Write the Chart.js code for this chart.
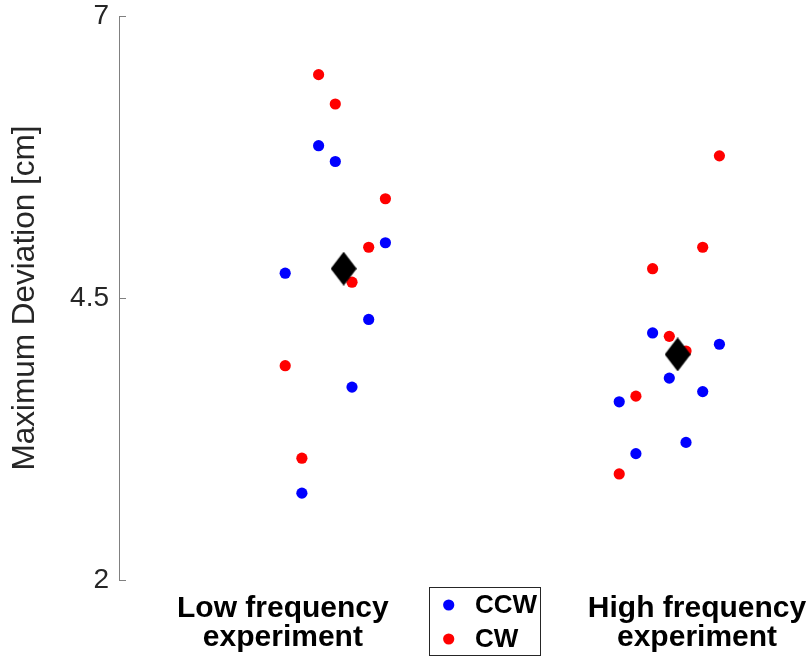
<!DOCTYPE html>
<html>
<head>
<meta charset="utf-8">
<script src="https://cdn.jsdelivr.net/npm/chart.js@4.4.1/dist/chart.umd.min.js"></script>
<style>
    html, body { margin: 0; padding: 0; background: #fff; }
    #wrap { width: 812px; height: 656px; }
</style>
</head>
<body>
<div id="wrap"><canvas id="chart" width="812" height="656"></canvas></div>
<script>
// values
const categories = [['Low frequency', 'experiment'], ['High frequency', 'experiment']];
const groupX = [1, 2];
const subjectJitter = [-0.15, -0.1, -0.05, 0, 0.05, 0.1, 0.15];
const lowCCW = [4.72, 2.77, 5.85, 5.71, 3.71, 4.31, 4.99];
const lowCW = [3.90, 3.08, 6.48, 6.22, 4.64, 4.95, 5.38];
const highCCW = [3.58, 3.12, 4.19, 3.79, 3.22, 3.67, 4.09];
const highCW = [2.94, 3.63, 4.76, 4.16, 4.03, 4.95, 5.76];
const groupMeans = [4.76, 4.00];
const yTicks = [2, 4.5, 7];

const meanOffset = 0.025;
const xLabelPos = [0.843, 2.083];
const fontFamily = "'Liberation Sans', Arial, Helvetica, sans-serif";

function toPoints(group, values) {
    return values.map((v, i) => ({ x: groupX[group] + subjectJitter[i], y: v }));
}

// tall black diamond for the means
const diamond = document.createElement('canvas');
diamond.width = 26;
diamond.height = 34;
{
    const d = diamond.getContext('2d');
    d.fillStyle = '#000';
    d.beginPath();
    d.moveTo(13, 0);
    d.lineTo(26, 17);
    d.lineTo(13, 34);
    d.lineTo(0, 17);
    d.closePath();
    d.fill();
}

// y ticks pointing into the plot
const innerTicks = {
    id: 'innerTicks',
    afterDraw(chart) {
        const { ctx, chartArea } = chart;
        const y = chart.scales.y;
        ctx.save();
        ctx.strokeStyle = '#808080';
        ctx.lineWidth = 1;
        y.ticks.forEach(t => {
            const py = Math.round(y.getPixelForValue(t.value)) + 0.5;
            ctx.beginPath();
            ctx.moveTo(chartArea.left, py);
            ctx.lineTo(chartArea.left + 7, py);
            ctx.stroke();
        });
        ctx.restore();
    }
};

// boxed legend between the two group labels
const boxLegend = {
    id: 'boxLegend',
    afterDraw(chart) {
        const ctx = chart.ctx;
        const items = chart.data.datasets.filter(ds => ds.inLegend);
        ctx.save();
        ctx.fillStyle = '#fff';
        ctx.fillRect(429.5, 587.5, 111, 68);
        ctx.strokeStyle = '#262626';
        ctx.lineWidth = 1;
        ctx.strokeRect(429.5, 587.5, 111, 68);
        ctx.font = 'bold 26px ' + fontFamily;
        ctx.textBaseline = 'middle';
        ctx.textAlign = 'left';
        items.forEach((ds, i) => {
            const cy = 605 + i * 34;
            ctx.fillStyle = ds.backgroundColor;
            ctx.beginPath();
            ctx.arc(448.7, cy, 5.6, 0, Math.PI * 2);
            ctx.fill();
            ctx.fillStyle = '#000';
            ctx.fillText(ds.label, 475, cy + 1);
        });
        ctx.restore();
    }
};

const ctx = document.getElementById('chart').getContext('2d');
new Chart(ctx, {
    type: 'scatter',
    data: {
        datasets: [
            {
                label: 'Mean',
                data: groupMeans.map((m, i) => ({ x: groupX[i] + meanOffset, y: m })),
                pointStyle: diamond,
                pointRadius: 17,
                inLegend: false
            },
            {
                label: 'CCW',
                data: toPoints(0, lowCCW).concat(toPoints(1, highCCW)),
                backgroundColor: '#0000ff',
                borderWidth: 0,
                pointRadius: 5.6,
                inLegend: true
            },
            {
                label: 'CW',
                data: toPoints(0, lowCW).concat(toPoints(1, highCW)),
                backgroundColor: '#ff0000',
                borderWidth: 0,
                pointRadius: 5.6,
                inLegend: true
            }
        ]
    },
    options: {
        responsive: false,
        animation: false,
        events: [],
        layout: { autoPadding: false, padding: { top: 16, right: 0, bottom: 0, left: 0 } },
        plugins: {
            legend: { display: false },
            tooltip: { enabled: false }
        },
        scales: {
            x: {
                type: 'linear',
                min: 0.3524,
                max: 2.4272,
                afterBuildTicks: s => { s.ticks = xLabelPos.map(v => ({ value: v })); },
                afterFit: s => {
                    s.height = 76;
                    s.paddingLeft = 0;
                    s.paddingRight = 0;
                },
                grid: { display: false, drawTicks: false },
                border: { display: false },
                ticks: {
                    autoSkip: false,
                    maxRotation: 0,
                    minRotation: 0,
                    padding: 14,
                    color: '#000',
                    font: { family: fontFamily, size: 30, weight: 'bold', lineHeight: 0.98 },
                    callback: (v, i) => categories[i]
                }
            },
            y: {
                min: 2,
                max: 7,
                afterBuildTicks: s => { s.ticks = yTicks.map(v => ({ value: v })); },
                afterFit: s => {
                    s.width = 119;
                    s.paddingTop = 0;
                    s.paddingBottom = 0;
                },
                grid: { display: false, drawTicks: false },
                border: { display: true, color: '#808080', width: 1 },
                ticks: {
                    padding: 10,
                    color: '#262626',
                    font: { family: fontFamily, size: 28, lineHeight: 1.0 },
                    callback: v => String(v)
                },
                title: {
                    display: true,
                    text: 'Maximum Deviation [cm]',
                    color: '#262626',
                    font: { family: fontFamily, size: 31.5 },
                    padding: { top: 6, bottom: 0 }
                }
            }
        }
    },
    plugins: [innerTicks, boxLegend]
});
</script>
</body>
</html>
